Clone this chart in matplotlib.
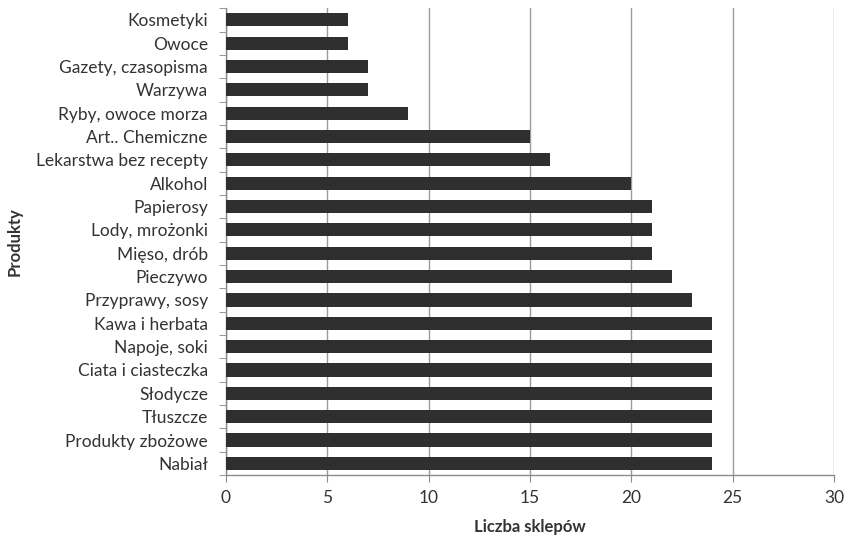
import numpy as np
import matplotlib.pyplot as plt

# Products and number of shops offering them
produkty = [
    "Kosmetyki", "Owoce", "Gazety, czasopisma", "Warzywa", "Ryby, owoce morza",
    "Art.. Chemiczne", "Lekarstwa bez recepty", "Alkohol", "Papierosy",
    "Lody, mrożonki", "Mięso, drób", "Pieczywo", "Przyprawy, sosy",
    "Kawa i herbata", "Napoje, soki", "Ciata i ciasteczka", "Słodycze",
    "Tłuszcze", "Produkty zbożowe", "Nabiał",
]
liczba_sklepow = [6, 6, 7, 7, 9, 15, 16, 20, 21, 21, 21, 22, 23, 24, 24, 24, 24, 24, 24, 24]
x_ticks = [0, 5, 10, 15, 20, 25, 30]

plt.rcParams['font.family'] = ['Lato', 'DejaVu Sans']

fig = plt.figure(figsize=(8.48, 5.39), dpi=100)
ax = fig.add_axes([0.2665, 0.1187, 0.717, 0.866])

pos = np.arange(len(produkty))
ax.barh(pos, liczba_sklepow, height=0.56, color='#2f2f2f', zorder=3)

ax.set_xlim(0, 30)
ax.set_ylim(len(produkty) - 0.5, -0.5)
ax.set_xticks(x_ticks)
ax.set_xticklabels([str(t) for t in x_ticks], fontsize=12.5, color='#333333')
ax.set_yticks(pos)
ax.set_yticklabels(produkty, fontsize=12.5, color='#333333')
ax.set_yticks(np.arange(len(produkty) + 1) - 0.5, minor=True)

ax.tick_params(axis='y', which='major', length=0, pad=13)
ax.tick_params(axis='y', which='minor', length=5, color='#8a8a8a', direction='out')
ax.tick_params(axis='x', which='major', length=5, color='#8a8a8a', direction='out', pad=6)

ax.grid(axis='x', color='#9a9a9a', linewidth=1.0, zorder=0)
for side in ('top', 'right'):
    ax.spines[side].set_visible(False)
for side in ('left', 'bottom'):
    ax.spines[side].set_color('#8a8a8a')
    ax.spines[side].set_linewidth(1.0)

ax.set_xlabel("Liczba sklepów", fontsize=12, fontweight='bold', color='#333333', labelpad=9)
ax.set_ylabel("Produkty", fontsize=12, fontweight='bold', color='#333333', labelpad=10)

fig.savefig("out.png", dpi=100)
